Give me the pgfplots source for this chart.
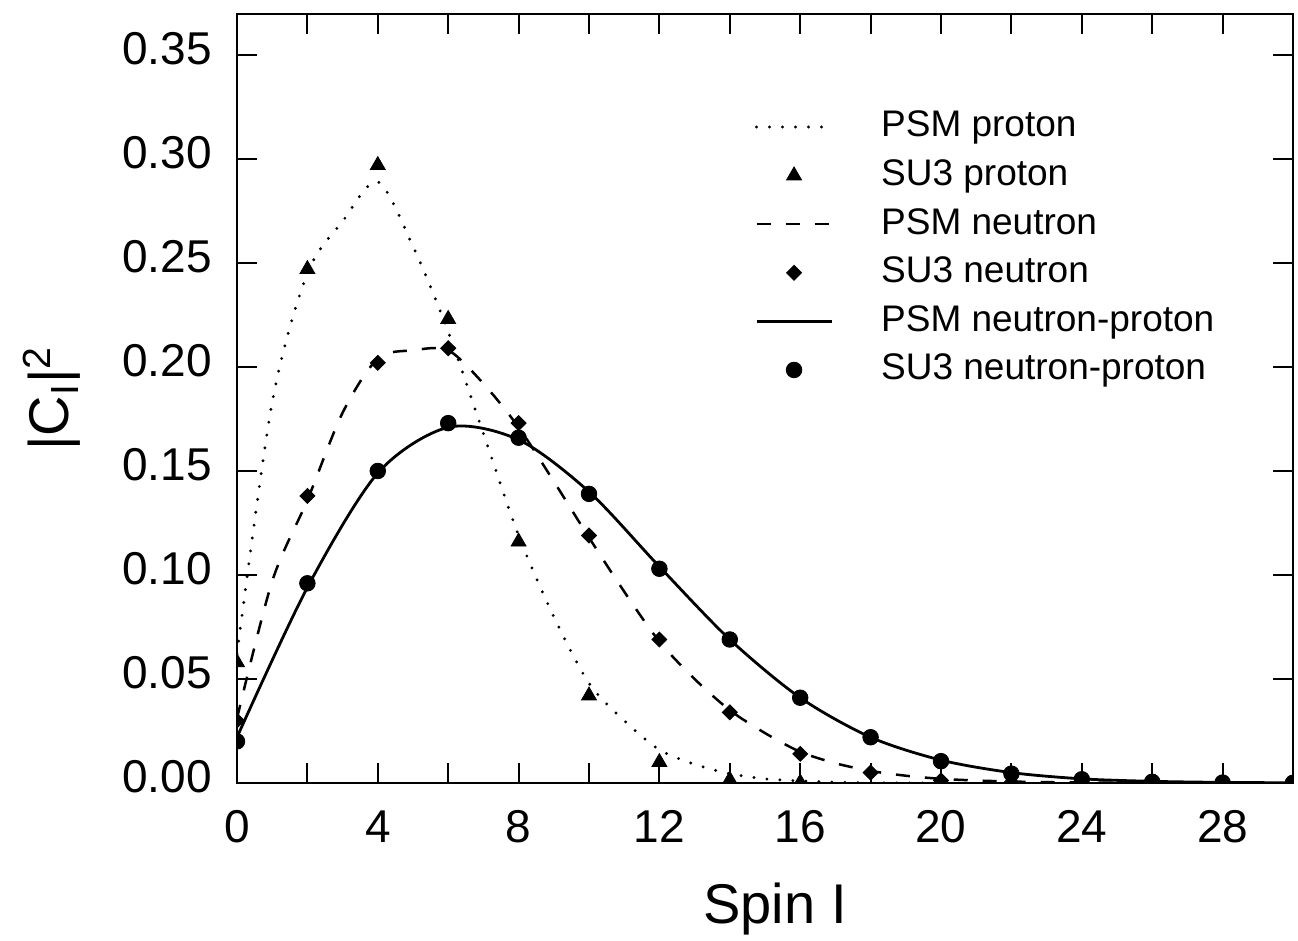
\documentclass[border=0pt]{standalone}
\usepackage{fontspec}
\setmainfont{Liberation Sans}
\usepackage{pgfplots}
\pgfplotsset{compat=1.18}
\pgfplotsset{
  lineleg/.style={legend image code/.code={\draw[##1,mark=none] (0pt,0pt) -- (37.5pt,0pt); \path (0pt,0pt) (61.5pt,0pt);}},
  markleg/.style={legend image code/.code={\draw[##1] plot coordinates {(18.75pt,0pt)}; \path (0pt,0pt) (61.5pt,0pt);}},
}
\begin{document}
\begin{tikzpicture}
\begin{axis}[
  at={(0pt,0pt)}, anchor=south west,
  scale only axis, width=528pt, height=384.5pt,
  xmin=0, xmax=30, ymin=0, ymax=0.3697,
  axis line style={line width=1.4pt},
  xtick={0,4,...,28}, minor xtick={2,6,...,30},
  ytick={0,0.05,0.1,0.15,0.2,0.25,0.3,0.35},
  tick align=inside, major tick length=10pt, minor tick length=10pt,
  every tick/.style={black, line width=1pt},
  scaled y ticks=false,
  /pgf/number format/assume math mode=true,
  y tick label style={/pgf/number format/fixed, /pgf/number format/fixed zerofill, /pgf/number format/precision=2, inner sep=0pt, xshift=-12.5pt, yshift=3pt},
  x tick label style={inner sep=0pt, yshift=-13.5pt},
  tick label style={font=\fontsize{23}{27}\selectfont},
  xlabel={Spin I},
  ylabel={|C\textsubscript{I}|\textsuperscript{2}},
  label style={font=\fontsize{28}{32}\selectfont},
  xlabel style={at={(axis description cs:0.5095,-0.130)}, anchor=north, inner sep=0pt},
  ylabel style={at={(axis description cs:-0.1477,0.5)}, anchor=south, inner sep=0pt},
  clip marker paths=true,
  legend cell align=left,
  legend style={draw=none, fill=none, at={(axis description cs:0.4905,0.8752)}, anchor=north west,
    inner sep=0pt, outer sep=0pt, row sep=7.3pt, font=\fontsize{18.5}{22}\selectfont,
    nodes={inner sep=0pt, text height=13.5pt, text depth=3.5pt}},
]
% PSM proton
\addplot[lineleg, black, line width=1.6pt, line cap=round, dash pattern=on 0pt off 6.5pt, smooth] coordinates {
(0,0.062) (1,0.183) (2,0.245) (3,0.270) (4,0.289) (5,0.258) (6,0.217) (7,0.168) (8,0.119) (9,0.080) (10,0.048)
(11,0.030) (12,0.016) (13,0.009) (14,0.0045) (15,0.002) (16,0.001) (17,0.0004) (18,0.0001) (19,0) (20,0)};
\addlegendentry{PSM proton}
% SU3 proton
\addplot[markleg, only marks, mark=triangle*, mark size=4.3pt, black] coordinates {
(0,0.058) (2,0.247) (4,0.297) (6,0.223) (8,0.116) (10,0.042) (12,0.010) (14,0.0015) (16,0.0002)};
\addlegendentry{SU3 proton}
% PSM neutron
\addplot[lineleg, black, line width=1.25pt, dash pattern=on 7pt off 7.5pt, smooth] coordinates {
(0,0.031) (1,0.097) (2,0.136) (3,0.178) (4,0.204) (5,0.208) (6,0.208) (7,0.192) (8,0.171) (9,0.145) (10,0.118)
(11,0.092) (12,0.068) (13,0.050) (14,0.035) (15,0.024) (16,0.015) (17,0.0095) (18,0.0058) (19,0.0035) (20,0.002)
(21,0.0012) (22,0.0007) (23,0.0004) (24,0.0002) (25,0.0001) (26,0)};
\addlegendentry{PSM neutron}
% SU3 neutron
\addplot[markleg, only marks, mark=square*, mark options={rotate=45}, mark size=2.65pt, black] coordinates {
(0,0.030) (2,0.138) (4,0.202) (6,0.209) (8,0.173) (10,0.119) (12,0.069) (14,0.034) (16,0.014) (18,0.005) (20,0.0012) (22,0.0002)};
\addlegendentry{SU3 neutron}
% PSM neutron-proton
\addplot[lineleg, black, line width=1.4pt, smooth] coordinates {
(0,0.022) (2,0.094) (4,0.149) (6,0.171) (8,0.165) (10,0.140) (12,0.104) (14,0.069) (16,0.041) (18,0.022)
(20,0.011) (22,0.005) (24,0.002) (26,0.0008) (28,0.0003) (30,0.0001)};
\addlegendentry{PSM neutron-proton}
% SU3 neutron-proton
\addplot[markleg, only marks, mark=*, mark size=3.9pt, black] coordinates {
(0,0.020) (2,0.096) (4,0.150) (6,0.173) (8,0.166) (10,0.139) (12,0.103) (14,0.069) (16,0.041) (18,0.022)
(20,0.0105) (22,0.0045) (24,0.0018) (26,0.0006) (28,0.0002) (30,0.0001)};
\addlegendentry{SU3 neutron-proton}
\end{axis}
\pgfresetboundingbox
\path[use as bounding box] (-118.5pt,-79pt) rectangle (530.5pt,391.5pt);
\end{tikzpicture}
\end{document}
